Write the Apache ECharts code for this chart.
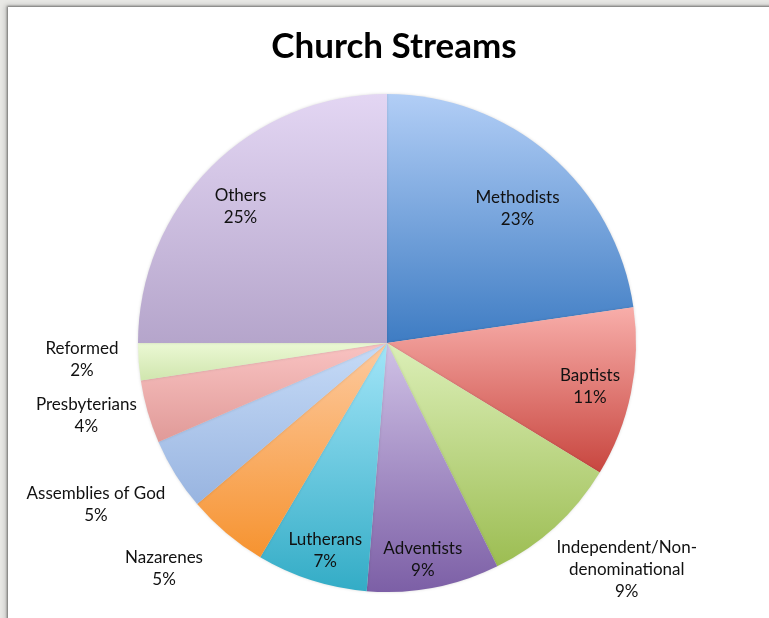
<!DOCTYPE html>
<html>
<head>
<meta charset="utf-8">
<script src="https://cdn.jsdelivr.net/npm/echarts@6/dist/echarts.min.js"></script>
<style>
  html, body { margin: 0; padding: 0; width: 769px; height: 618px; overflow: hidden; background: #e8e8e5; }
  #card { position: absolute; left: 8px; top: 7px; width: 800px; height: 700px; background: #fff;
          box-shadow: -1px -1px 2px rgba(0,0,0,0.45), -3px -2px 5px rgba(0,0,0,0.15); }
  #chart { position: absolute; left: 0; top: 0; width: 769px; height: 618px; }
</style>
</head>
<body>
<div id="card"></div>
<div id="chart"></div>
<script>
// ---- data ----
const categories = [
  'Methodists', 'Baptists', 'Independent/Non-\ndenominational', 'Adventists', 'Lutherans',
  'Nazarenes', 'Assemblies of God', 'Presbyterians', 'Reformed', 'Others'
];
const shares = [22.7, 11.0, 9.0, 8.6, 7.2, 5.3, 4.7, 4.1, 2.4, 25.0];

// ---- styling ----
const gradients = [
  ['#b2cef6', '#3e7cc3'],
  ['#f8aeaa', '#c8463f'],
  ['#dcefb8', '#9cbd52'],
  ['#d0c2e6', '#7c5fa6'],
  ['#a2e5f8', '#33acc6'],
  ['#fdca9f', '#f69330'],
  ['#c6dbf7', '#98b4e0'],
  ['#f9c3c2', '#e09a98'],
  ['#ebf8d4', '#d0e6ae'],
  ['#e3d6f3', '#b5a5cb']
];
const outsideSet = new Set([2, 5, 6, 7, 8]);
// small label nudges (best-fit placement), in px
const labelNudge = [[-5, 22], [0, 2], [25, -8], [-3, 13], [1, 10], [-18, -18], [-21, -6], [5, -15], [12, -7], [0, 10]];
const FONT = 'Lato, "Open Sans", sans-serif';

function grad(i) {
  return new echarts.graphic.LinearGradient(0, 0, 0, 1, [
    { offset: 0, color: gradients[i][0] },
    { offset: 1, color: gradients[i][1] }
  ]);
}

const total = shares.reduce((a, b) => a + b, 0);
function pctLabel(p) {
  return p.name + '\n' + Math.round(p.value / total * 100) + '%';
}

const center = ['387px', '343px'];
const R = 249;

const mainData = categories.map((c, i) => ({
  name: c, value: shares[i],
  itemStyle: { color: grad(i) }
}));
const innerLabelData = categories.map((c, i) => ({
  name: c, value: shares[i],
  label: { show: !outsideSet.has(i), offset: labelNudge[i] }
}));
const outerLabelData = categories.map((c, i) => ({
  name: c, value: shares[i],
  label: { show: outsideSet.has(i), offset: labelNudge[i] }
}));

const labelStyle = {
  position: 'inside',
  formatter: pctLabel,
  color: '#111',
  fontFamily: FONT,
  fontSize: 17,
  lineHeight: 22,
  align: 'center'
};

const option = {
  animation: false,
  backgroundColor: 'transparent',
  title: {
    text: 'Church Streams',
    left: 389, top: 24,
    textAlign: 'center',
    textStyle: { fontFamily: FONT, fontWeight: 'bold', fontSize: 35, color: '#000' }
  },
  series: [
    {
      type: 'pie',
      center: center,
      radius: [0, R],
      startAngle: 90,
      clockwise: true,
      silent: true,
      label: { show: false },
      labelLine: { show: false },
      itemStyle: { borderWidth: 0, shadowBlur: 3, shadowColor: 'rgba(0,0,0,0.15)' },
      data: mainData
    },
    {
      type: 'pie',
      center: center,
      radius: [R * 0.64, R],
      startAngle: 90,
      clockwise: true,
      silent: true,
      itemStyle: { color: 'rgba(0,0,0,0)', borderWidth: 0 },
      label: labelStyle,
      labelLine: { show: false },
      data: innerLabelData
    },
    {
      type: 'pie',
      center: center,
      radius: [R, R * 1.53],
      startAngle: 90,
      clockwise: true,
      silent: true,
      itemStyle: { color: 'rgba(0,0,0,0)', borderWidth: 0 },
      label: labelStyle,
      labelLine: { show: false },
      data: outerLabelData
    }
  ]
};

const chart = echarts.init(document.getElementById('chart'), null, { renderer: 'canvas' });
chart.setOption(option);
</script>
</body>
</html>
